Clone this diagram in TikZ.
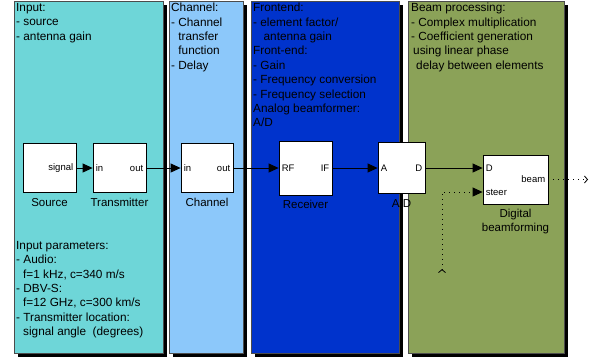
\documentclass[tikz,border=0pt]{standalone}
\usepackage{fontspec}
\setmainfont{Liberation Sans}
\usetikzlibrary{arrows.meta,shadows}

\definecolor{inputcol}{RGB}{110,214,216}
\definecolor{chancol}{RGB}{140,200,250}
\definecolor{frontcol}{RGB}{0,51,204}
\definecolor{beamcol}{RGB}{139,162,88}

\begin{document}
\begin{tikzpicture}[x=1pt,y=-1pt,
    panel/.style={draw=black!70,line width=0.6pt,anchor=north west,inner sep=0pt,
      drop shadow={shadow xshift=4pt,shadow yshift=-4pt,fill=black,opacity=1}},
    paneltext/.style={anchor=north west,align=left,inner sep=1pt,
      font=\fontsize{11.8}{14.4}\selectfont},
    block/.style={draw,fill=white,line width=0.8pt,inner sep=0pt},
    port/.style={inner sep=3pt,font=\fontsize{9.5}{11}\selectfont},
    sig/.style={line width=0.8pt,-{Triangle[length=10pt,width=9pt]}},
    loose/.style={line width=0.8pt,dash pattern=on 1pt off 4pt},
    label distance=4pt,
    every label/.append style={inner sep=1pt,font=\fontsize{11.5}{14}\selectfont}]
  \useasboundingbox (0,0) rectangle (597,362);

  % the four stages
  \node[panel,fill=inputcol,minimum width=149,minimum height=352] (inputpanel) at (14,1) {};
  \node[panel,fill=chancol,minimum width=74,minimum height=352] (chanpanel) at (169,1) {};
  \node[panel,fill=frontcol,minimum width=148,minimum height=352] (frontpanel) at (251,1) {};
  \node[panel,fill=beamcol,minimum width=156,minimum height=352] (beampanel) at (408,1) {};

  % notes
  \node[paneltext] (inputnote) at (15,2) {Input:\\- source\\- antenna gain};
  \node[paneltext] (paramnote) at (15,240) {Input parameters:\\- Audio:\\\hspace*{7pt}f=1 kHz, c=340 m/s\\- DBV-S:\\\hspace*{7pt}f=12 GHz, c=300 km/s\\- Transmitter location:\\\hspace*{7pt}signal angle\ \ (degrees)};
  \node[paneltext] (channote) at (170,2) {Channel:\\- Channel\\\phantom{- }transfer\\\phantom{- }function\\- Delay};
  \node[paneltext] (frontnote) at (252,2) {Frontend:\\- element factor/\\\phantom{- }\ antenna gain\\Front-end:\\- Gain\\- Frequency conversion\\- Frequency selection\\Analog beamformer:\\A/D};
  \node[paneltext] (beamnote) at (410,2) {Beam processing:\\- Complex multiplication\\- Coefficient generation\\\hspace*{2pt}using linear phase\\\hspace*{5pt}delay between elements};

  % blocks
  \node[block,minimum width=53,minimum height=49,label=below:Source] (src) at (49.5,168) {};
  \node[port,anchor=east] (srcsignal) at (src.east) {signal};
  \node[block,minimum width=53,minimum height=49,label=below:Transmitter] (tx) at (119.5,168) {};
  \node[port,anchor=west] (txin) at (tx.west) {in};
  \node[port,anchor=east] (txout) at (tx.east) {out};
  \node[block,minimum width=52,minimum height=49,label=below:Channel] (chan) at (207,168) {};
  \node[port,anchor=west] (chanin) at (chan.west) {in};
  \node[port,anchor=east] (chanout) at (chan.east) {out};
  \node[block,minimum width=53,minimum height=54,label=below:Receiver] (rx) at (305.5,168) {};
  \node[port,anchor=west] (rxrf) at (rx.west) {RF};
  \node[port,anchor=east] (rxif) at (rx.east) {IF};
  \node[block,minimum width=47,minimum height=51,label=below:A/D] (adc) at (401.5,168) {};
  \node[port,anchor=west] (adca) at (adc.west) {A};
  \node[port,anchor=east] (adcd) at (adc.east) {D};
  \node[block,minimum width=65,minimum height=49,label={[align=center]below:Digital\\beamforming}] (dbf) at (515.5,179.5) {};
  \node[port,anchor=west] (dbfd) at (dbf.west |- adc.east) {D};
  \coordinate (steerin) at ([yshift=-12.5pt]dbf.west);
  \node[port,anchor=west] (dbfsteer) at (steerin) {steer};
  \node[port,anchor=east] (dbfbeam) at (dbf.east) {beam};

  \coordinate (steersrc) at (442,273);
  \coordinate (beamend) at (588,179.5);

  % signal flow
  \draw[sig] (src.east) -- (tx.west);
  \draw[sig] (tx.east) -- (chan.west);
  \draw[sig] (chan.east) -- (rx.west);
  \draw[sig] (rx.east) -- (adc.west);
  \draw[sig] (adc.east) -- (dbfd.west);
  \draw[loose,{Straight Barb[reversed,length=3pt,width=7pt]}-{Triangle[length=10pt,width=9pt]}] (steersrc) |- (steerin);
  \draw[loose,-{Straight Barb[length=3pt,width=7pt]}] (dbf.east) -- (beamend);
\end{tikzpicture}
\end{document}
